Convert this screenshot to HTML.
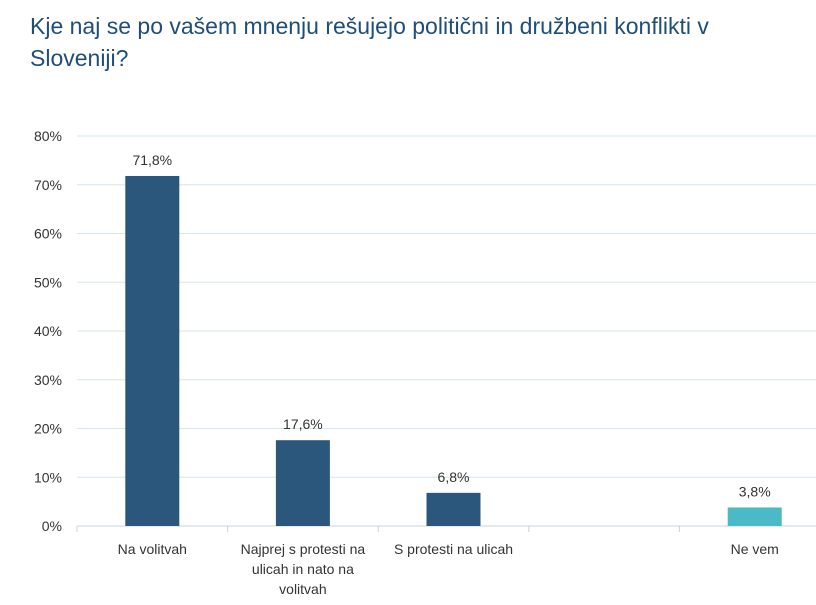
<!DOCTYPE html>
<html><head><meta charset="utf-8"><style>
body{margin:0;background:#fff;width:816px;height:605px;overflow:hidden;font-family:"Liberation Sans",sans-serif}
#title{position:absolute;left:30px;top:10px;width:780px;font-size:23px;line-height:32px;color:#1f4e79;font-weight:normal}
</style></head><body>
<div id="title">Kje naj se po vašem mnenju rešujejo politični in družbeni konflikti v Sloveniji?</div>
<svg id="chart" width="816" height="605" style="position:absolute;left:0;top:0"></svg>
<script>
const categories=[["Na volitvah"],["Najprej s protesti na","ulicah in nato na","volitvah"],["S protesti na ulicah"],[""],["Ne vem"]];
const values=[71.8,17.6,6.8,null,3.8];
const valueLabels=["71,8%","17,6%","6,8%","","3,8%"];
const colors=["#2b577c","#2b577c","#2b577c","#2b577c","#4cb9c6"];
const yTicks=[0,10,20,30,40,50,60,70,80];
const svg=document.getElementById('chart');
const NS='http://www.w3.org/2000/svg';
const x0=77,x1=830,y0=526,yTop=136,yMax=80;
const slot=(x1-x0)/categories.length;
const y=v=>y0-(v/yMax)*(y0-yTop);
const xc=i=>x0+slot*(i+0.5);
function mk(t,a){const e=document.createElementNS(NS,t);for(const k in a)e.setAttribute(k,a[k]);svg.appendChild(e);return e;}
yTicks.forEach(t=>{
 const l=mk('line',{x1:x0,x2:x1,y1:y(t),y2:y(t),stroke:t===0?'#c8d3dc':'#d6e6ee','stroke-width':1});
 
 
 const tx=mk('text',{x:62,y:y(t)+5,'text-anchor':'end','font-size':14,fill:'#333','font-family':'Liberation Sans'});
 tx.textContent=t+'%';
 
 
});
for(let i=0;i<=categories.length;i++){
 const l=mk('line',{x1:x0+slot*i,x2:x0+slot*i,y1:y0,y2:y0+6,stroke:'#c8d3dc'});
 
 
}
const bw=54;
categories.forEach((c,i)=>{
 if(values[i]!=null){
  const r=mk('rect',{x:xc(i)-bw/2,y:y(values[i]),width:bw,height:y0-y(values[i]),fill:colors[i]});
  
  
  const t=mk('text',{x:xc(i),y:y(values[i])-11,'text-anchor':'middle','font-size':14,fill:'#333','font-family':'Liberation Sans'});
  t.textContent=valueLabels[i];
  
  
 }
 c.forEach((line,j)=>{
  const t=mk('text',{x:xc(i),y:y0+28+j*20,'text-anchor':'middle','font-size':14,fill:'#333','font-family':'Liberation Sans'});
  t.textContent=line;
  
  
 });
});
</script>
</body></html>
